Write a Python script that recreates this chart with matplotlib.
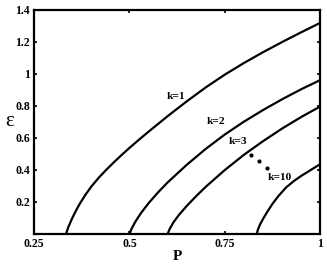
import numpy as np
import matplotlib
matplotlib.use('Agg')
import matplotlib.pyplot as plt

plt.rcParams['font.family'] = ['Liberation Serif', 'DejaVu Serif']
plt.rcParams['font.weight'] = 'bold'

# curves, P -> epsilon
p_k1 = [0.3338, 0.34, 0.35, 0.36, 0.37, 0.385, 0.40, 0.42, 0.44, 0.46, 0.48, 0.50, 0.525, 0.55,
        0.60, 0.65, 0.70, 0.75, 0.80, 0.85, 0.90, 0.95, 1.00]
e_k1 = [0.0, 0.043, 0.098, 0.146, 0.189, 0.246, 0.2955, 0.3525, 0.4025, 0.4495, 0.4945, 0.5375, 0.589, 0.639,
        0.736, 0.8285, 0.916, 0.996, 1.0685, 1.136, 1.1995, 1.2605, 1.3195]

p_k2 = [0.50, 0.505, 0.515, 0.53, 0.55, 0.575, 0.60, 0.65, 0.70, 0.75, 0.80, 0.85, 0.90, 0.95, 1.00]
e_k2 = [0.0, 0.03, 0.075, 0.13, 0.192, 0.26, 0.322, 0.432, 0.532, 0.622, 0.702, 0.7745, 0.842, 0.9045, 0.962]

p_k3 = [0.60, 0.605, 0.615, 0.63, 0.65, 0.675, 0.70, 0.75, 0.80, 0.85, 0.90, 0.95, 1.00]
e_k3 = [0.0, 0.03, 0.072, 0.12, 0.175, 0.237, 0.295, 0.40, 0.495, 0.58, 0.659, 0.731, 0.797]

p_k10 = [0.8333, 0.836, 0.842, 0.85, 0.86, 0.875, 0.89, 0.91, 0.93, 0.95, 0.975, 1.00]
e_k10 = [0.0, 0.025, 0.06, 0.095, 0.135, 0.19, 0.237, 0.29, 0.33, 0.363, 0.40, 0.437]

labels = ['k=1', 'k=2', 'k=3', 'k=10']
label_p = [0.622, 0.726, 0.785, 0.894]
label_e = [0.856, 0.70, 0.575, 0.354]

dots_p = [0.819, 0.840, 0.860]
dots_e = [0.494, 0.456, 0.414]

xticks = [0.25, 0.5, 0.75, 1]
xtick_labels = ['0.25', '0.5', '0.75', '1']
yticks = [0.2, 0.4, 0.6, 0.8, 1.0, 1.2, 1.4]
ytick_labels = ['0.2', '0.4', '0.6', '0.8', '1', '1.2', '1.4']

fig = plt.figure(figsize=(3.27, 2.67), dpi=100)
ax = fig.add_axes([0.104, 0.124, 0.876, 0.839])

for p, e in [(p_k1, e_k1), (p_k2, e_k2), (p_k3, e_k3), (p_k10, e_k10)]:
    ax.plot(p, e, color='black', lw=1.6, solid_joinstyle='round')

for s, x, y in zip(labels, label_p, label_e):
    ax.text(x, y, s, fontsize=8.2, fontweight='bold', ha='center', va='center')

ax.plot(dots_p, dots_e, 'k.', ms=4)

ax.set_xlim(0.25, 1)
ax.set_ylim(0, 1.4)
ax.set_xticks(xticks)
ax.set_xticklabels(xtick_labels)
ax.set_yticks(yticks)
ax.set_yticklabels(ytick_labels)
ax.tick_params(direction='in', length=2.5, width=1.2, top=True, right=True, labelsize=8.5, pad=3)
for sp in ax.spines.values():
    sp.set_linewidth(1.6)

ax.set_xlabel('P', fontsize=11, fontweight='bold', labelpad=0)
ax.set_ylabel('ε', fontsize=15, fontweight='normal', rotation=0, labelpad=4, va='center')

plt.savefig('out.png', dpi=100)
